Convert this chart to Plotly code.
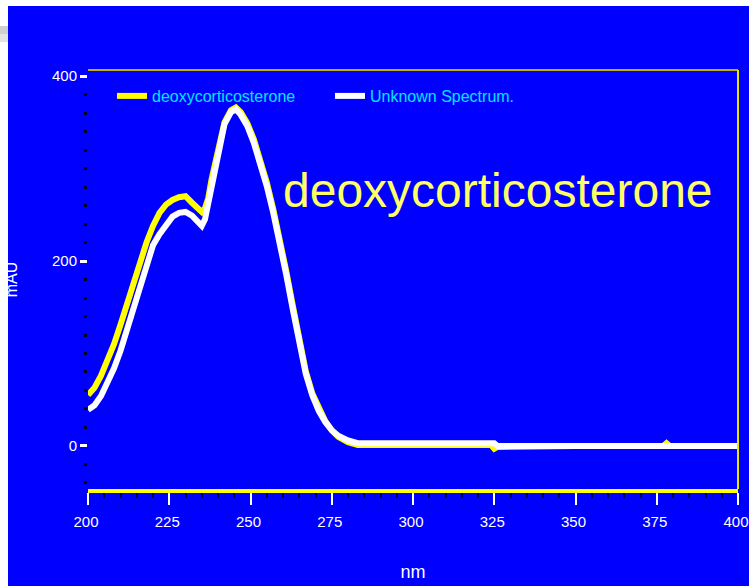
import plotly.graph_objects as go

# Wavelength grid (nm) shared by both spectra
wavelength = [200, 202, 204, 206, 208, 210, 212, 214, 216, 218, 220, 222, 224, 226, 228,
              230, 232, 234, 235, 236, 237, 238, 239, 240, 242, 244, 245.5, 247, 249, 251,
              253, 255, 257, 259, 261, 263, 265, 267, 269, 271, 273, 275, 277, 280, 283,
              300, 324, 325, 326, 350, 377, 378, 379, 400]

# Absorbance (mAU) of the reference standard
deoxycorticosterone = [55, 63, 76, 92, 110, 131, 154, 178, 198, 220, 238, 252, 261, 266, 269,
                       270, 263, 256, 253, 257, 268, 288, 303, 320, 350, 363, 366, 361, 349, 332,
                       309, 285, 256, 224, 189, 152, 115, 81, 57, 40, 27, 17, 10, 4, 1,
                       1, 1, -3, -1, 0, 0, 3, 0, 0]

# Absorbance (mAU) of the unknown sample
unknown_spectrum = [39, 44, 54, 68, 84, 103, 125, 150, 172, 196, 217, 229, 240, 248, 252,
                    253, 249, 242, 238, 245, 262, 285, 300, 318, 348, 361, 364, 358, 346, 328,
                    305, 281, 252, 220, 185, 148, 112, 78, 55, 38, 26, 17, 11, 6, 3,
                    3, 3, 3, 0, 0, 0, 0, 0, 0]

series_names = ["deoxycorticosterone", "Unknown Spectrum."]
x_ticks = [200, 225, 250, 275, 300, 325, 350, 375, 400]
y_ticks = [0, 200, 400]

BLUE = "#0000ff"
SANS = "Liberation Sans, Arial, sans-serif"

# Page geometry (pixels)
W, H = 749, 586
L, R, T, B = 88, 11, 70, 97
PW, PH = W - L - R, H - T - B


def px_x(p):
    return (p - L) / PW


def px_y(p):
    return (H - B - p) / PH


fig = go.Figure()
fig.add_trace(go.Scatter(x=wavelength, y=deoxycorticosterone, name=series_names[0],
                         mode="lines", line=dict(color="#ffff00", width=6)))
fig.add_trace(go.Scatter(x=wavelength, y=unknown_spectrum, name=series_names[1],
                         mode="lines", line=dict(color="#ffffff", width=6)))

shapes = [
    # white page margins and slide edge shading
    dict(type="rect", xref="paper", yref="paper", x0=px_x(0), x1=px_x(W), y0=px_y(0), y1=px_y(6),
         fillcolor="white", line_width=0, layer="below"),
    dict(type="rect", xref="paper", yref="paper", x0=px_x(0), x1=px_x(8), y0=px_y(0), y1=px_y(H),
         fillcolor="white", line_width=0, layer="below"),
    dict(type="rect", xref="paper", yref="paper", x0=px_x(0), x1=px_x(8), y0=px_y(34), y1=px_y(26),
         fillcolor="#cfcfcf", line_width=0, layer="below"),
    dict(type="rect", xref="paper", yref="paper", x0=px_x(0), x1=px_x(8), y0=px_y(42), y1=px_y(34),
         fillcolor="#e2e2e2", line_width=0, layer="below"),
    # frame: thin top edge and right edge
    dict(type="line", xref="paper", yref="paper", x0=0, x1=1, y0=1, y1=1,
         line=dict(color="#c0b000", width=2)),
    dict(type="line", xref="paper", yref="paper", x0=1, x1=1, y0=0, y1=1,
         line=dict(color="#e8e800", width=2)),
]

fig.update_layout(
    width=W, height=H,
    margin=dict(l=L, r=R, t=T, b=B, pad=0, autoexpand=False),
    paper_bgcolor=BLUE, plot_bgcolor=BLUE,
    shapes=shapes,
    showlegend=True,
    legend=dict(orientation="h", x=px_x(112), y=px_y(79), xanchor="left", yanchor="top",
                bgcolor="rgba(0,0,0,0)", entrywidth=173, entrywidthmode="pixels",
                font=dict(family=SANS, size=16, color="#00e5ff")),
    annotations=[dict(text="deoxycorticosterone", xref="paper", yref="paper",
                      x=px_x(498.5), y=px_y(190), xanchor="center", yanchor="middle",
                      showarrow=False,
                      font=dict(family=SANS, size=48, color="#ffff66"))],
)

fig.update_xaxes(
    range=[200, 400], tickvals=x_ticks, ticks="outside", ticklen=12, tickwidth=2,
    tickcolor="white", showline=True, linecolor="#ffff00", linewidth=4,
    showgrid=False, zeroline=False, automargin=False,
    ticklabeloverflow="allow", ticklabelstandoff=4, ticklabelshift=-2,
    minor=dict(dtick=5, tick0=200, ticks="outside", ticklen=5, tickwidth=2,
               tickcolor="#000022", showgrid=False),
    tickfont=dict(family=SANS, size=15, color="white"),
    title=dict(text="nm", font=dict(family=SANS, size=18, color="white"), standoff=37),
)

fig.update_yaxes(
    range=[-46.5, 406.5], tickvals=y_ticks, ticks="outside", ticklen=7, tickwidth=3,
    tickcolor="white", showline=False, showgrid=False, zeroline=False, automargin=False,
    ticklabeloverflow="allow",
    minor=dict(dtick=20, tick0=0, ticks="outside", ticklen=3, tickwidth=3,
               tickcolor="#000022", showgrid=False),
    tickfont=dict(family=SANS, size=15, color="white"),
    title=dict(text="mAU", font=dict(family=SANS, size=16, color="white"), standoff=30),
)

fig.write_html("out.html")
